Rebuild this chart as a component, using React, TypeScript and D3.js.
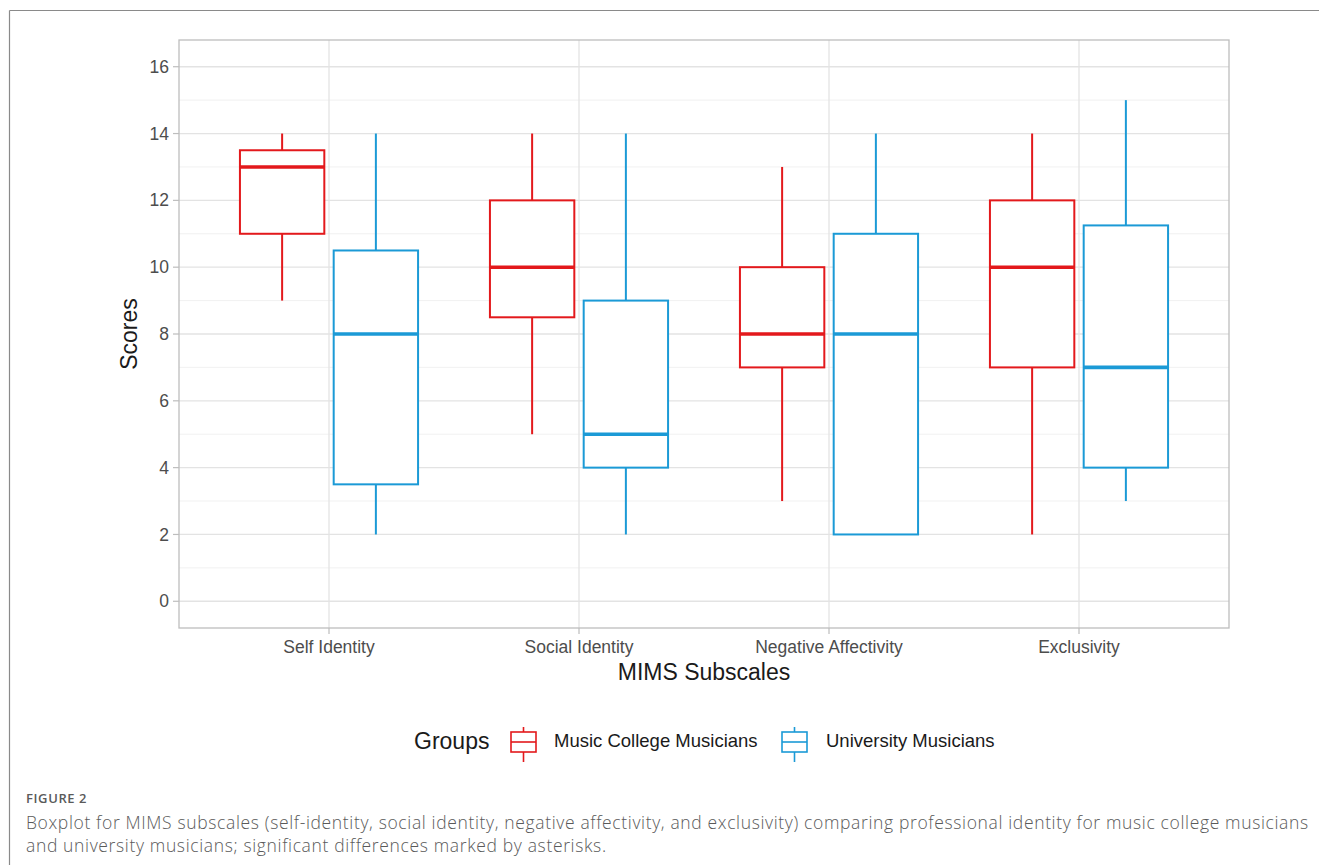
import React, { useEffect, useRef } from "react";
import * as d3 from "d3";

const subscales = ["Self Identity", "Social Identity", "Negative Affectivity", "Exclusivity"];
const groups = ["Music College Musicians", "University Musicians"];

// five-number summaries
const collegeLow = [9, 5, 3, 2];
const collegeQ1 = [11, 8.5, 7, 7];
const collegeMedian = [13, 10, 8, 10];
const collegeQ3 = [13.5, 12, 10, 12];
const collegeHigh = [14, 14, 13, 14];

const universityLow = [2, 2, 2, 3];
const universityQ1 = [3.5, 4, 2, 4];
const universityMedian = [8, 5, 8, 7];
const universityQ3 = [10.5, 9, 11, 11.25];
const universityHigh = [14, 14, 14, 15];

const yTicks = [0, 2, 4, 6, 8, 10, 12, 14, 16];
const yMinor = [1, 3, 5, 7, 9, 11, 13, 15];

const groupColors = ["#E3191C", "#1B9AD6"];

const captionLabel = "FIGURE 2";
const captionLines = [
  "Boxplot for MIMS subscales (self-identity, social identity, negative affectivity, and exclusivity) comparing professional identity for music college musicians",
  "and university musicians; significant differences marked by asterisks."
];

const font = "'Liberation Sans', Arial, sans-serif";

export default function App() {
  const ref = useRef<SVGSVGElement | null>(null);

  useEffect(() => {
    const width = 1319;
    const height = 865;
    const svg = d3.select(ref.current);
    svg.selectAll("*").remove();

    const left = 179, right = 1229, top = 40, bottom = 628;

    var y = d3.scaleLinear().domain([-0.8, 16.8]).range([bottom, top]);
    var x = d3.scalePoint().domain(subscales).range([left, right]).padding(0.6);
    var dodge = d3
      .scaleBand()
      .domain(groups)
      .range([-0.375 * x.step(), 0.375 * x.step()]);
    var boxW = dodge.bandwidth() * 0.9;

    // outer frame
    svg.append("line").attr("x1", 9.5).attr("x2", width).attr("y1", 10.5).attr("y2", 10.5)
      .attr("stroke", "#8a8a8a").attr("stroke-width", 1.2);
    svg.append("line").attr("x1", 9.5).attr("x2", 9.5).attr("y1", 10.5).attr("y2", height)
      .attr("stroke", "#8a8a8a").attr("stroke-width", 1.2);

    // grid
    var g = svg.append("g");
    g.selectAll(".minor").data(yMinor).enter().append("line")
      .attr("x1", left).attr("x2", right)
      .attr("y1", d => y(d)).attr("y2", d => y(d))
      .attr("stroke", "#EDEDED").attr("stroke-width", 0.8);
    g.selectAll(".major").data(yTicks).enter().append("line")
      .attr("x1", left).attr("x2", right)
      .attr("y1", d => y(d)).attr("y2", d => y(d))
      .attr("stroke", "#E3E3E3").attr("stroke-width", 1.3);
    g.selectAll(".vmajor").data(subscales).enter().append("line")
      .attr("x1", d => x(d)!).attr("x2", d => x(d)!)
      .attr("y1", top).attr("y2", bottom)
      .attr("stroke", "#E3E3E3").attr("stroke-width", 1.3);

    // boxes
    var series = [
      { low: collegeLow, q1: collegeQ1, med: collegeMedian, q3: collegeQ3, high: collegeHigh },
      { low: universityLow, q1: universityQ1, med: universityMedian, q3: universityQ3, high: universityHigh }
    ];
    series.forEach((s, gi) => {
      var color = groupColors[gi];
      subscales.forEach((sub, i) => {
        var cx = x(sub)! + dodge(groups[gi])! + dodge.bandwidth() / 2;
        var bg = svg.append("g").attr("stroke", color).attr("fill", "none");
        bg.append("line").attr("x1", cx).attr("x2", cx)
          .attr("y1", y(s.high[i])).attr("y2", y(s.q3[i])).attr("stroke-width", 2);
        bg.append("line").attr("x1", cx).attr("x2", cx)
          .attr("y1", y(s.q1[i])).attr("y2", y(s.low[i])).attr("stroke-width", 2);
        bg.append("rect")
          .attr("x", cx - boxW / 2).attr("width", boxW)
          .attr("y", y(s.q3[i])).attr("height", y(s.q1[i]) - y(s.q3[i]))
          .attr("fill", "white").attr("stroke-width", 2);
        bg.append("line").attr("x1", cx - boxW / 2).attr("x2", cx + boxW / 2)
          .attr("y1", y(s.med[i])).attr("y2", y(s.med[i])).attr("stroke-width", 3.6);
      });
    });

    // panel border
    svg.append("rect").attr("x", left).attr("y", top)
      .attr("width", right - left).attr("height", bottom - top)
      .attr("fill", "none").attr("stroke", "#BDBDBD").attr("stroke-width", 1.3);

    // y axis
    var ya = svg.append("g");
    ya.selectAll("line").data(yTicks).enter().append("line")
      .attr("x1", left - 6).attr("x2", left)
      .attr("y1", d => y(d)).attr("y2", d => y(d))
      .attr("stroke", "#BDBDBD").attr("stroke-width", 1.2);
    ya.selectAll("text").data(yTicks).enter().append("text")
      .attr("x", left - 10).attr("y", d => y(d))
      .attr("dy", "0.35em").attr("text-anchor", "end")
      .attr("font-family", font).attr("font-size", 17.5).attr("fill", "#4D4D4D")
      .text(d => d);

    // x axis
    var xa = svg.append("g");
    xa.selectAll("line").data(subscales).enter().append("line")
      .attr("x1", d => x(d)!).attr("x2", d => x(d)!)
      .attr("y1", bottom).attr("y2", bottom + 6)
      .attr("stroke", "#BDBDBD").attr("stroke-width", 1.2);
    xa.selectAll("text").data(subscales).enter().append("text")
      .attr("x", d => x(d)!).attr("y", 653)
      .attr("text-anchor", "middle")
      .attr("font-family", font).attr("font-size", 17.5).attr("fill", "#4D4D4D")
      .text(d => d);

    svg.append("text").attr("x", (left + right) / 2).attr("y", 680)
      .attr("text-anchor", "middle").attr("font-family", font)
      .attr("font-size", 23).attr("fill", "#1a1a1a").text("MIMS Subscales");
    svg.append("text")
      .attr("transform", `translate(137,${(top + bottom) / 2}) rotate(-90)`)
      .attr("text-anchor", "middle").attr("font-family", font)
      .attr("font-size", 23).attr("fill", "#1a1a1a").text("Scores");

    // legend
    var lg = svg.append("g");
    lg.append("text").attr("x", 414).attr("y", 749)
      .attr("font-family", font).attr("font-size", 23).attr("fill", "#1a1a1a").text("Groups");
    var keyX = [509, 780];
    var labelX = [554, 826];
    groups.forEach((gr, gi) => {
      var k = lg.append("g").attr("stroke", groupColors[gi]).attr("fill", "none");
      var kc = keyX[gi] + 14.5;
      k.append("line").attr("x1", kc).attr("x2", kc).attr("y1", 727).attr("y2", 762).attr("stroke-width", 1.6);
      k.append("rect").attr("x", keyX[gi] + 2).attr("y", 732).attr("width", 25).attr("height", 20)
        .attr("fill", "white").attr("stroke-width", 1.6);
      k.append("line").attr("x1", keyX[gi] + 2).attr("x2", keyX[gi] + 27).attr("y1", 742).attr("y2", 742)
        .attr("stroke-width", 1.6);
      lg.append("text").attr("x", labelX[gi]).attr("y", 747)
        .attr("font-family", font).attr("font-size", 18.5).attr("fill", "#1a1a1a").text(gr);
    });

    // caption
    var cap = svg.append("g").attr("font-family", "'Open Sans', 'Noto Sans', sans-serif").attr("fill", "#5a5a5a");
    cap.append("text").attr("x", 26).attr("y", 803).attr("font-size", 13)
      .attr("font-weight", 600).attr("letter-spacing", 0.6).text(captionLabel);
    cap.selectAll(".line").data(captionLines).enter().append("text")
      .attr("x", 26).attr("y", (d, i) => 829 + i * 23)
      .attr("font-size", 17.5).attr("font-weight", 300).attr("letter-spacing", 0.64)
      .text(d => d);
  }, []);

  return (
    <svg
      ref={ref}
      width={1319}
      height={865}
      style={{ position: "absolute", left: 0, top: 0, background: "white" }}
    />
  );
}
